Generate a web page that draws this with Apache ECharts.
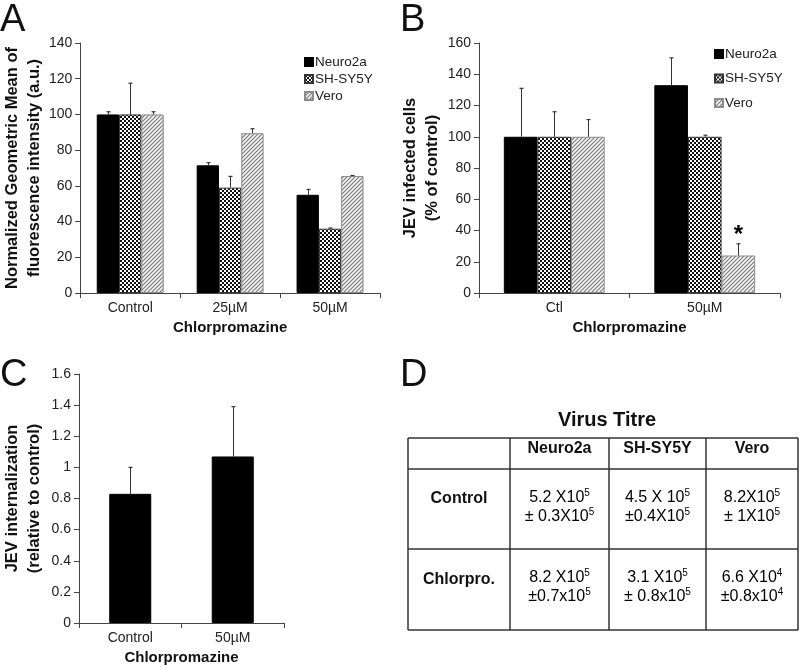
<!DOCTYPE html>
<html>
<head>
<meta charset="utf-8">
<script src="https://cdn.jsdelivr.net/npm/echarts@6/dist/echarts.min.js"></script>
<style>
  html, body { margin: 0; padding: 0; background: #fff; }
  #main { width: 800px; height: 669px; }
</style>
</head>
<body>
<div id="main"></div>
<script>
// ---- data ----
const seriesNames = ['Neuro2a', 'SH-SY5Y', 'Vero'];

// panel A: fluorescence intensity
const catsA = ['Control', '25µM', '50µM'];
const neuroA = [100, 71.5, 55];
const shA = [100, 59, 36];
const veroA = [100, 89.5, 65.5];
const neuroErrA = [1.5, 1.5, 3];
const shErrA = [17.5, 6.3, 0.4];
const veroErrA = [1.5, 2.5, 0.3];

// panel B: infected cells
const catsB = ['Ctl', '50µM'];
const neuroB = [100, 133];
const shB = [100, 100];
const veroB = [100, 24];
const neuroErrB = [31, 17.5];
const shErrB = [16, 1];
const veroErrB = [11, 7.5];
const starB = [[1, 2]]; // [category, series]

// panel C: internalization
const catsC = ['Control', '50µM'];
const valC = [0.83, 1.07];
const errC = [0.17, 0.32];

// panel D: virus titre table
const tableCols = ['Neuro2a', 'SH-SY5Y', 'Vero'];
const tableRows = ['Control', 'Chlorpro.'];
const titreVal = [
  ['5.2 X10^5', '4.5 X 10^5', '8.2X10^5'],
  ['8.2 X10^5', '3.1 X10^5', '6.6 X10^4']
];
const titreErr = [
  ['± 0.3X10^5', '±0.4X10^5', '± 1X10^5'],
  ['±0.7x10^5', '± 0.8x10^5', '±0.8x10^4']
];

// ---- patterns ----
function checker() {
  const c = document.createElement('canvas');
  c.width = 4; c.height = 4;
  const g = c.getContext('2d');
  g.fillStyle = '#fff'; g.fillRect(0, 0, 4, 4);
  g.fillStyle = '#111';
  g.fillRect(0, 0, 2, 2); g.fillRect(2, 2, 2, 2);
  return { image: c, repeat: 'repeat' };
}
function hatch() {
  const c = document.createElement('canvas');
  c.width = 4; c.height = 4;
  const g = c.getContext('2d');
  g.fillStyle = '#f4f4f4'; g.fillRect(0, 0, 4, 4);
  g.strokeStyle = '#7a7a7a'; g.lineWidth = 1.1;
  g.beginPath();
  g.moveTo(-1, 5); g.lineTo(5, -1);
  g.moveTo(-1, 1); g.lineTo(1, -1);
  g.moveTo(3, 5); g.lineTo(5, 3);
  g.stroke();
  return { image: c, repeat: 'repeat' };
}
const fills = ['#000', checker(), hatch()];
const borders = ['#000', '#333', '#8c8c8c'];

const FONT = 'Liberation Sans, Arial, sans-serif';

function errRender(n, gap) {
  return function (params, api) {
    const cat = api.value(0), v = api.value(1), e = api.value(2), k = api.value(3), star = api.value(4);
    const band = api.size([1, 0])[0];
    const gw = band * (1 - gap);
    const bw = gw / n;
    const p0 = api.coord([cat, v]);
    const p1 = api.coord([cat, v + e]);
    const x = Math.round(p0[0] - gw / 2 + bw * (k + 0.5)) + 0.5;
    const ch = [
      { type: 'line', shape: { x1: x, y1: p0[1], x2: x, y2: p1[1] }, style: { stroke: '#333', lineWidth: 1 } },
      { type: 'line', shape: { x1: x - 2, y1: p1[1], x2: x + 2, y2: p1[1] }, style: { stroke: '#333', lineWidth: 1.2 } }
    ];
    if (star) {
      ch.push({ type: 'text', style: { text: '*', x: x, y: p1[1] + 4, fill: '#000', font: 'bold 24px ' + FONT, align: 'center', verticalAlign: 'bottom' } });
    }
    return { type: 'group', children: ch };
  };
}

function errData(errs, vals, starList) {
  const out = [];
  errs.forEach((arr, k) => arr.forEach((e, i) => {
    const s = (starList || []).some(p => p[0] === i && p[1] === k) ? 1 : 0;
    out.push([i, vals[k][i], e, k, s]);
  }));
  return out;
}

function xAxis(grid, cats) {
  return {
    gridIndex: grid, type: 'category', data: cats,
    name: 'Chlorpromazine', nameLocation: 'middle', nameGap: 27,
    nameTextStyle: { fontFamily: FONT, fontWeight: 'bold', fontSize: 15, color: '#111' },
    axisLine: { lineStyle: { color: '#444', width: 1 } },
    axisTick: { show: true, length: 5, lineStyle: { color: '#444' } },
    axisLabel: { fontFamily: FONT, fontSize: 14, color: '#222', margin: 8 },
    splitLine: { show: false }
  };
}
function yAxis(grid, max, interval, name, gap) {
  return {
    gridIndex: grid, type: 'value', min: 0, max: max, interval: interval,
    name: name, nameLocation: 'middle', nameGap: gap,
    nameTextStyle: { fontFamily: FONT, fontWeight: 'bold', fontSize: 16.5, color: '#111', lineHeight: 22 },
    axisLine: { show: true, lineStyle: { color: '#444', width: 1 } },
    axisTick: { show: true, length: 5, lineStyle: { color: '#444' } },
    axisLabel: { fontFamily: FONT, fontSize: 14, color: '#222', margin: 8 },
    splitLine: { show: false }
  };
}

function bars(xi, vals, gap) {
  return vals.map((v, k) => ({
    name: seriesNames[k], type: 'bar', xAxisIndex: xi, yAxisIndex: xi,
    data: v, barGap: 0, barCategoryGap: gap,
    itemStyle: { color: fills[k], borderColor: borders[k], borderWidth: 1 },
    emphasis: { disabled: true }, silent: true, z: 2
  }));
}

function tableGraphic() {
  const L = 408, R = 798, T = 438;
  const colX = [L, 510, 609, 706, R];
  const rowY = [T, 469, 549, 630];
  const g = [];
  const line = (x1, y1, x2, y2) => g.push({ type: 'line', shape: { x1, y1, x2, y2 }, style: { stroke: '#333', lineWidth: 1.5 } });
  rowY.forEach(y => line(L, y, R, y));
  colX.forEach(x => line(x, T, x, rowY[3]));
  const rich = {
    n: { fontFamily: FONT, fontSize: 16, color: '#111', lineHeight: 19 },
    s: { fontFamily: FONT, fontSize: 10, color: '#111', lineHeight: 19, verticalAlign: 'top', padding: [0, 0, 8, 0] }
  };
  const toRich = str => str.replace(/\^(\d)/g, '{s|$1}').replace(/^([^{]*)/, '{n|$1}');
  tableCols.forEach((c, j) => g.push({ type: 'text', x: (colX[j + 1] + colX[j + 2]) / 2, y: 449,
    style: { text: c, font: 'bold 16px ' + FONT, fill: '#111', align: 'center', verticalAlign: 'middle' } }));
  tableRows.forEach((r, i) => {
    const cy = (rowY[i + 1] + rowY[i + 2]) / 2 - 2;
    g.push({ type: 'text', x: (colX[0] + colX[1]) / 2, y: cy - 8,
      style: { text: r, font: 'bold 16px ' + FONT, fill: '#111', align: 'center', verticalAlign: 'middle' } });
    tableCols.forEach((c, j) => {
      g.push({ type: 'text', x: (colX[j + 1] + colX[j + 2]) / 2, y: cy,
        style: { text: toRich(titreVal[i][j]) + '\n' + toRich(titreErr[i][j]), rich: rich, align: 'center', verticalAlign: 'middle' } });
    });
  });
  g.push({ type: 'text', x: 607, y: 420, style: { text: 'Virus Titre', font: 'bold 20px ' + FONT, fill: '#111', align: 'center', verticalAlign: 'middle' } });
  return g;
}

const letter = (t, x, y) => ({ type: 'text', x: x, y: y, style: { text: t, font: '38px ' + FONT, fill: '#111' } });

const chart = echarts.init(document.getElementById('main'));
const legendBase = {
  orient: 'vertical', icon: 'rect', itemWidth: 8, itemHeight: 8,
  textStyle: { fontFamily: FONT, fontSize: 13.5, color: '#222', padding: [0, 0, 0, -3] },
  data: seriesNames, selectedMode: false
};
chart.setOption({
  backgroundColor: '#fff',
  animation: false,
  grid: [
    { left: 79, top: 43, width: 301, height: 250 },
    { left: 479, top: 43, width: 301, height: 250 },
    { left: 79, top: 374, width: 205, height: 249 }
  ],
  legend: [
    Object.assign({ left: 299, top: 50, itemGap: 3 }, legendBase),
    Object.assign({ left: 709, top: 42, itemGap: 10.5 }, legendBase)
  ],
  xAxis: [xAxis(0, catsA), xAxis(1, catsB), xAxis(2, catsC)],
  yAxis: [
    yAxis(0, 140, 20, 'Normalized Geometric Mean of\nfluorescence intensity (a.u.)', 35),
    yAxis(1, 160, 20, 'JEV infected cells\n(% of control)', 34),
    yAxis(2, 1.6, 0.2, 'JEV internalization\n(relative to control)', 34)
  ],
  series: [
    ...bars(0, [neuroA, shA, veroA], '33%'),
    { type: 'custom', xAxisIndex: 0, yAxisIndex: 0, renderItem: errRender(3, 0.33), silent: true, z: 3,
      data: errData([neuroErrA, shErrA, veroErrA], [neuroA, shA, veroA]) },
    ...bars(1, [neuroB, shB, veroB], '33%'),
    { type: 'custom', xAxisIndex: 1, yAxisIndex: 1, renderItem: errRender(3, 0.33), silent: true, z: 3,
      data: errData([neuroErrB, shErrB, veroErrB], [neuroB, shB, veroB], starB) },
    { type: 'bar', xAxisIndex: 2, yAxisIndex: 2, data: valC, barCategoryGap: '59%', silent: true,
      itemStyle: { color: '#000', borderColor: '#000', borderWidth: 1 } },
    { type: 'custom', xAxisIndex: 2, yAxisIndex: 2, renderItem: errRender(1, 0.59), silent: true, z: 3,
      data: errData([errC], [valC]) }
  ],
  graphic: [
    letter('A', 0, 2), letter('B', 400, 2), letter('C', 0, 357), letter('D', 400, 357),
    ...tableGraphic()
  ]
});
</script>
</body>
</html>
